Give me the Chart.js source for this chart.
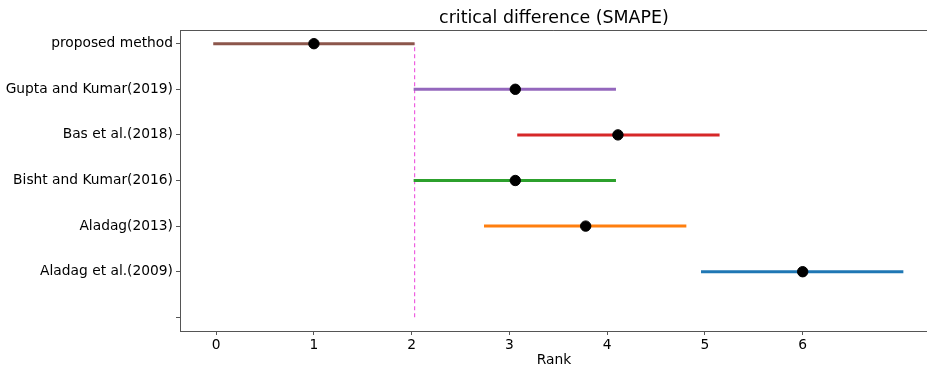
<!DOCTYPE html>
<html>
<head>
<meta charset="utf-8">
<script src="https://cdn.jsdelivr.net/npm/chart.js@4.4.0/dist/chart.umd.min.js"></script>
<style>
  html, body { margin: 0; padding: 0; background: #fff; overflow: hidden; }
  #wrap { width: 934px; height: 369px; }
</style>
</head>
<body>
<div id="wrap"><canvas id="cdChart"></canvas></div>
<script>
// methods from top to bottom, y position 6 .. 1 (0 is an empty tick)
const methods = ['proposed method', 'Gupta and Kumar(2019)', 'Bas et al.(2018)',
  'Bisht and Kumar(2016)', 'Aladag(2013)', 'Aladag et al.(2009)'];
const yPos = [6, 5, 4, 3, 2, 1];
const ranks = [1.0, 3.06, 4.11, 3.06, 3.78, 6.0];
const lows = [-0.03, 2.02, 3.08, 2.02, 2.74, 4.96];
const highs = [2.03, 4.09, 5.15, 4.09, 4.81, 7.03];
const colors = ['#8c564b', '#9467bd', '#d62728', '#2ca02c', '#ff7f0e', '#1f77b4'];
const cdLine = 2.03;
const xTicks = [0, 1, 2, 3, 4, 5, 6];
const yTicks = [0, 1, 2, 3, 4, 5, 6];
const yLabels = ['', 'Aladag et al.(2009)', 'Aladag(2013)', 'Bisht and Kumar(2016)',
  'Bas et al.(2018)', 'Gupta and Kumar(2019)', 'proposed method'];

const FONT = 'DejaVu Sans, sans-serif';
const AXIS = '#555';

const datasets = [];

// black dots for mean ranks, kept on top
datasets.push({
  data: ranks.map((r, i) => ({ x: r, y: yPos[i] })),
  showLine: false,
  pointRadius: 5.2,
  pointBackgroundColor: '#000',
  pointBorderColor: '#000',
  order: 0
});

methods.forEach((m, i) => {
  datasets.push({
    label: m,
    data: [{ x: lows[i], y: yPos[i] }, { x: highs[i], y: yPos[i] }],
    showLine: true,
    borderColor: colors[i],
    borderWidth: 3,
    pointRadius: 0,
    order: 1
  });
});

// critical difference marker
datasets.push({
  data: [{ x: cdLine, y: 0 }, { x: cdLine, y: 6 }],
  showLine: true,
  borderColor: '#ee5fe0',
  borderWidth: 1.2,
  borderDash: [4, 3],
  pointRadius: 0,
  order: 2
});

// top spine + title centred on the axes
const frame = {
  id: 'frame',
  afterDraw(chart) {
    const { ctx, chartArea: a } = chart;
    ctx.save();
    ctx.strokeStyle = AXIS;
    ctx.lineWidth = 1;
    ctx.beginPath();
    ctx.moveTo(a.left, a.top + 0.5);
    ctx.lineTo(a.right, a.top + 0.5);
    ctx.stroke();
    ctx.fillStyle = '#000';
    ctx.font = '17.4px ' + FONT;
    ctx.textAlign = 'center';
    ctx.textBaseline = 'middle';
    ctx.fillText('critical difference (SMAPE)', (a.left + a.right) / 2, 18);
    ctx.restore();
  }
};

new Chart(document.getElementById('cdChart'), {
  type: 'scatter',
  data: { datasets },
  options: {
    responsive: true,
    maintainAspectRatio: false,
    animation: false,
    layout: { padding: { top: 30, right: 0, bottom: 0, left: 0 } },
    plugins: { legend: { display: false }, tooltip: { enabled: false } },
    scales: {
      x: {
        type: 'linear',
        min: -0.37,
        max: 7.28,
        afterBuildTicks: s => { s.ticks = xTicks.map(v => ({ value: v })); },
        afterFit: s => { s.height = 38; },
        ticks: { color: '#000', font: { family: FONT, size: 13.8 }, padding: 2, maxRotation: 0 },
        grid: { drawOnChartArea: false, drawTicks: true, tickLength: 4, color: AXIS },
        border: { color: AXIS },
        title: { display: true, text: 'Rank', color: '#000', font: { family: FONT, size: 13.8 }, padding: { top: 0, bottom: 0 } }
      },
      y: {
        type: 'linear',
        min: -0.3,
        max: 6.3,
        afterBuildTicks: s => { s.ticks = yTicks.map(v => ({ value: v })); },
        afterFit: s => { s.width = 180; },
        ticks: {
          color: '#000',
          font: { family: FONT, size: 13.8 },
          padding: 3,
          callback: v => yLabels[v]
        },
        grid: { drawOnChartArea: false, drawTicks: true, tickLength: 4, color: AXIS },
        border: { color: AXIS }
      }
    }
  },
  plugins: [frame]
});
</script>
</body>
</html>
